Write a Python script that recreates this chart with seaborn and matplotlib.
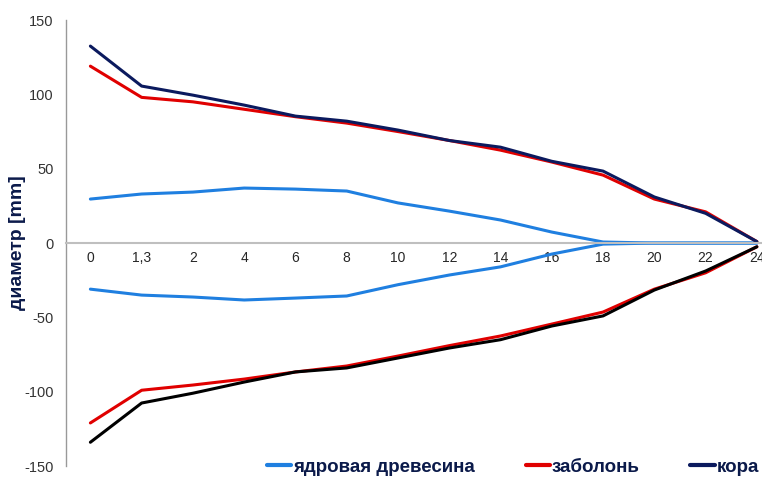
import numpy as np
import pandas as pd
import seaborn as sns
import matplotlib.pyplot as plt

# -----------------------------------------
# Data
# -----------------------------------------
heights = ["0", "1,3", "2", "4", "6", "8", "10", "12", "14", "16", "18", "20", "22", "24"]

heart_top = [29.6, 33, 34.3, 37, 36.3, 35, 27, 21.5, 15.5, 7.4, 0.7, 0, 0, 0]
heart_bot = [-31, -35, -36.3, -38.3, -37, -35.6, -28, -21.5, -16, -7.4, -0.7, 0, 0, 0]
sap_top = [119, 98, 95, 90, 85, 80.7, 75, 69, 62.5, 54.5, 45.7, 29.6, 21, 1]
sap_bot = [-121, -99, -95.5, -91.5, -86.7, -82.7, -76, -69, -62.5, -54.5, -46.4, -31, -20, -2.5]
bark_top = [132.5, 105.6, 99.5, 92.8, 85.4, 82, 76, 69, 64.5, 55, 48.4, 31, 20, 1]
bark_bot = [-134, -107.6, -101, -93.5, -86.7, -84, -77.3, -70.6, -65, -55.8, -49, -31.6, -18.8, -2.5]

BLUE = "#1f7fe0"
RED = "#e00000"
NAVY = "#0b1a5e"
BLACK = "#000000"
TXT = "#0b1a4a"

df = pd.DataFrame({
    "pos": np.arange(len(heights)),
    "heart_top": heart_top, "heart_bot": heart_bot,
    "sap_top": sap_top, "sap_bot": sap_bot,
    "bark_top": bark_top, "bark_bot": bark_bot,
})

# -----------------------------------------
# Plot
# -----------------------------------------
sns.set_style("white")
plt.rcParams["font.family"] = ["Liberation Sans", "DejaVu Sans"]
plt.rcParams["axes.unicode_minus"] = False

fig = plt.figure(figsize=(7.62, 4.78), dpi=100)
ax = fig.add_axes([0.087, 0.025, 0.913, 0.933])

lw = 2.2
sns.lineplot(data=df, x="pos", y="heart_top", color=BLUE, lw=lw, ax=ax, label="ядровая древесина")
sns.lineplot(data=df, x="pos", y="heart_bot", color=BLUE, lw=lw, ax=ax)
sns.lineplot(data=df, x="pos", y="sap_top", color=RED, lw=lw, ax=ax, label="заболонь")
sns.lineplot(data=df, x="pos", y="sap_bot", color=RED, lw=lw, ax=ax)
sns.lineplot(data=df, x="pos", y="bark_top", color=NAVY, lw=lw, ax=ax, label="кора")
sns.lineplot(data=df, x="pos", y="bark_bot", color=BLACK, lw=lw, ax=ax)

ax.set_xlim(-0.47, 13.1)
ax.set_ylim(-150, 150)
ax.set_yticks([-150, -100, -50, 0, 50, 100, 150])
ax.set_xticks(df["pos"])
ax.set_xticklabels(heights, fontweight="bold", fontsize=10, color=TXT)
ax.tick_params(axis="x", length=0, pad=6)
ax.tick_params(axis="y", length=0, pad=9, labelsize=10.5, labelcolor="#333333")

for side in ["top", "right"]:
    ax.spines[side].set_visible(False)
ax.spines["bottom"].set_position(("data", 0))
ax.spines["bottom"].set_color("#bfbfbf")
ax.spines["bottom"].set_linewidth(1.5)
ax.spines["left"].set_color("#999999")
ax.spines["left"].set_linewidth(1.0)

ax.set_xlabel("")
ax.set_ylabel("диаметр [mm]", fontsize=14, fontweight="bold", color=TXT)
ax.yaxis.set_label_coords(-0.058, 0.5)

leg = ax.legend(loc="lower right", bbox_to_anchor=(1.02, -0.06), ncol=3, frameon=False,
                handlelength=1.3, handletextpad=0.1, columnspacing=2.7,
                prop={"weight": "bold", "size": 13.5})
for t in leg.get_texts():
    t.set_color(TXT)
for h in leg.get_lines():
    h.set_linewidth(3)

fig.savefig("out.png", dpi=100)
plt.close()
